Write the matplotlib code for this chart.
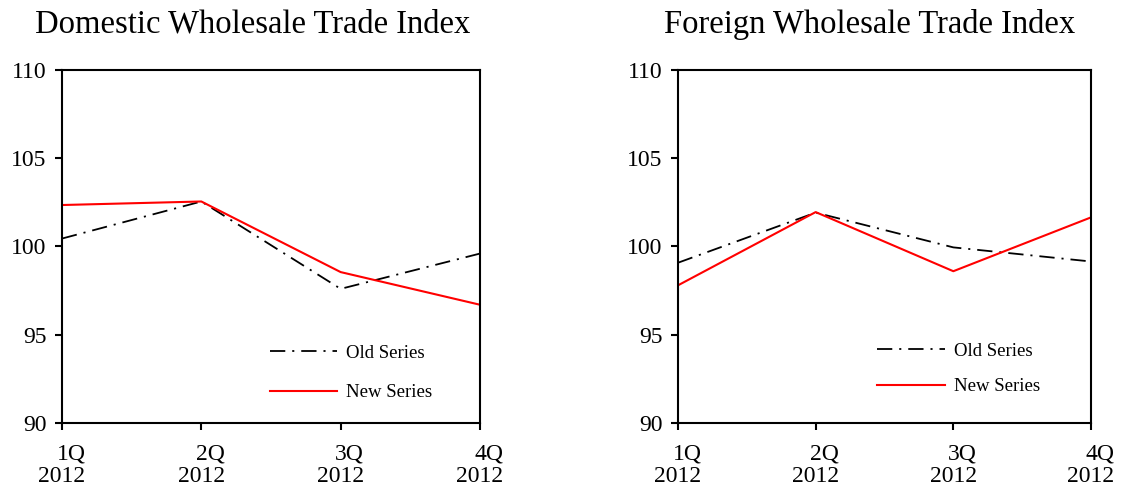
import matplotlib
matplotlib.use("Agg")
import matplotlib.pyplot as plt

plt.rcParams['font.family'] = ['Liberation Serif', 'DejaVu Serif']
plt.rcParams['lines.scale_dashes'] = False

quarters = ["1Q\n2012", "2Q\n2012", "3Q\n2012", "4Q\n2012"]

domestic_old = [100.45, 102.55, 97.6, 99.6]
domestic_new = [102.35, 102.55, 98.55, 96.7]

foreign_old = [99.08, 101.92, 99.95, 99.15]
foreign_new = [97.8, 101.95, 98.6, 101.65]

titles = ["Domestic Wholesale Trade Index", "Foreign Wholesale Trade Index"]

fig = plt.figure(figsize=(11.28, 4.87), dpi=100)
ax1 = fig.add_axes([62 / 1128, 64 / 487, 418 / 1128, 353 / 487])
ax2 = fig.add_axes([678 / 1128, 64 / 487, 413 / 1128, 353 / 487])

panels = [
    (ax1, domestic_old, domestic_new, titles[0], (0.497, 0.222), 1.2, 0.455),
    (ax2, foreign_old, foreign_new, titles[1], (0.482, 0.228), 0.98, 0.465),
]

for ax, old, new, title, anchor, spacing, title_x in panels:
    x = range(len(quarters))
    ax.plot(x, old, color='black', lw=1.3, dashes=(11, 5, 1.5, 5),
            label='Old Series')
    ax.plot(x, new, color='red', lw=1.5, label='New Series')
    ax.set_xlim(0, 3)
    ax.set_ylim(90, 110)
    ax.set_yticks([90, 95, 100, 105, 110])
    ax.set_xticks(list(x))
    ax.set_xticklabels(quarters, multialignment='right', linespacing=1.05)
    ax.tick_params(axis='both', labelsize=17, direction='out', length=5,
                   width=1.5, colors='black')
    ax.tick_params(axis='y', pad=6)
    ax.tick_params(axis='x', pad=10)
    for sp in ax.spines.values():
        sp.set_linewidth(1.5)
    ax.text(title_x, 1.085, title, transform=ax.transAxes, ha='center',
            va='bottom', fontsize=23.5)
    ax.legend(loc='upper left', bbox_to_anchor=anchor, frameon=False,
              fontsize=13.5, handlelength=3.6, handletextpad=0.48,
              labelspacing=spacing, borderpad=0, borderaxespad=0)

fig.savefig("out.png", dpi=100)
